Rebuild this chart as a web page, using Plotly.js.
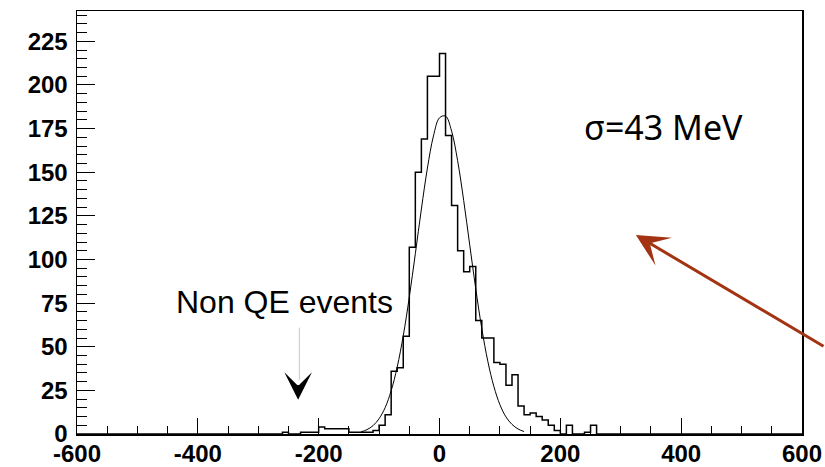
<!DOCTYPE html>
<html>
<head>
<meta charset="utf-8">
<script src="https://cdn.plot.ly/plotly-3.0.1.min.js"></script>
<style>html,body{margin:0;padding:0;background:#fff;}#chart{width:825px;height:467px;}</style>
</head>
<body>
<div id="chart"></div>
<script>
// Histogram: left edges of 10 MeV bins and counts
const binWidth = 10;
const binLeft = [-260,-250,-240,-230,-220,-210,-200,-190,-180,-170,-160,-150,-140,-130,-120,-110,
  -100,-90,-80,-70,-60,-50,-40,-30,-20,-10,0,10,20,30,40,50,60,70,80,90,
  100,110,120,130,140,150,160,170,180,190,200,210,220,230,240,250];
const counts = [1,0,0,1,1,1,4,3,3,3,3,1,1,1,1,2,
  5,11,36,38,56,107,150,169,205,205,218,171,131,105,93,96,65,55,55,41,
  40,28,34,16,11,12,10,8,5,2,0,5,0,0,1,5];

// Gaussian fit curve
const fitX = [-130,-120,-110,-100,-90,-80,-70,-60,-50,-40,-30,-20,-10,0,10,20,30,40,50,60,70,80,90,100,110,120,130,140];
const fitY = [1.2,2.5,4.8,8.8,15.1,24.8,38.4,56.3,78.4,103.3,128.9,152.4,170.8,181.2,182.2,173.6,156.6,133.9,108.4,83.2,60.5,41.6,27.2,16.8,9.8,5.5,2.9,1.4];

// Axis ticks
const xTickVals = [-600,-400,-200,0,200,400,600];
const xTickText = ['-600','-400','-200','0','200','400','600'];
const yTickVals = [0,25,50,75,100,125,150,175,200,225];
const yTickText = ['0','25','50','75','100','125','150','175','200','225'];

// Build step outline
const hx = [-600, binLeft[0]];
const hy = [0, 0];
for (let i = 0; i < binLeft.length; i++) { hx.push(binLeft[i]); hy.push(counts[i]); }
hx.push(binLeft[binLeft.length-1] + binWidth); hy.push(0);
hx.push(600); hy.push(0);

const tickFont = {family: '"Liberation Sans Narrow", "Arial Narrow", "Liberation Sans", Arial, sans-serif', size: 24, color: '#000', weight: 'bold'};

const traces = [
  {x: hx, y: hy, type: 'scatter', mode: 'lines', line: {shape: 'hv', color: '#000', width: 1.5}, hoverinfo: 'skip', showlegend: false},
  {x: fitX, y: fitY, type: 'scatter', mode: 'lines', line: {shape: 'spline', color: '#000', width: 1}, hoverinfo: 'skip', showlegend: false}
];

const layout = {
  width: 825, height: 467,
  margin: {l: 77, r: 23, t: 11, b: 33, pad: 0},
  paper_bgcolor: '#fff', plot_bgcolor: '#fff',
  showlegend: false,
  xaxis: {
    range: [-600, 600], tickmode: 'array', tickvals: xTickVals, ticktext: xTickText,
    ticks: 'inside', ticklen: 16, tickwidth: 1, tickcolor: '#000',
    minor: {dtick: 50, tick0: 0, ticks: 'inside', ticklen: 8, tickwidth: 1, tickcolor: '#000', showgrid: false},
    showline: true, linecolor: '#000', linewidth: 1.5, mirror: true,
    showgrid: false, zeroline: false, tickfont: tickFont, ticklabelstandoff: -2
  },
  yaxis: {
    range: [0, 242.4], tickmode: 'array', tickvals: yTickVals, ticktext: yTickText,
    ticks: 'inside', ticklen: 18, tickwidth: 1, tickcolor: '#000',
    minor: {dtick: 5, tick0: 0, ticks: 'inside', ticklen: 10, tickwidth: 1, tickcolor: '#000', showgrid: false},
    showline: true, linecolor: '#000', linewidth: 1.5, mirror: true,
    showgrid: false, zeroline: false, tickfont: tickFont, ticklabelstandoff: 3
  },
  shapes: [
    {type: 'line', xref: 'x', yref: 'y', x0: -232, x1: -232, y0: 61, y1: 31, line: {color: '#c8c8c8', width: 1}}
  ],
  annotations: [
    {x: -257, y: 75.5, xref: 'x', yref: 'y', text: 'Non QE events', showarrow: false,
     font: {family: '"Liberation Sans", Arial, sans-serif', size: 32, color: '#000'}},
    {x: 371, y: 176, xref: 'x', yref: 'y', text: 'σ=43 MeV', showarrow: false,
     font: {family: '"Noto Sans", "Open Sans", sans-serif', size: 34, color: '#000'}},
    {x: -234, y: 19.6, xref: 'x', yref: 'y', text: '', showarrow: true, arrowhead: 3, arrowsize: 4.6, arrowwidth: 1,
     arrowcolor: '#000', ax: 0, ay: -16, standoff: 0},
    {x: 325, y: 114, xref: 'x', yref: 'y', text: '', showarrow: true, arrowhead: 3, arrowsize: 1.8, arrowwidth: 3,
     arrowcolor: '#a33312', ax: 205, ay: 112, standoff: 0}
  ]
};

Plotly.newPlot('chart', traces, layout, {staticPlot: true, displayModeBar: false});
</script>
</body>
</html>
